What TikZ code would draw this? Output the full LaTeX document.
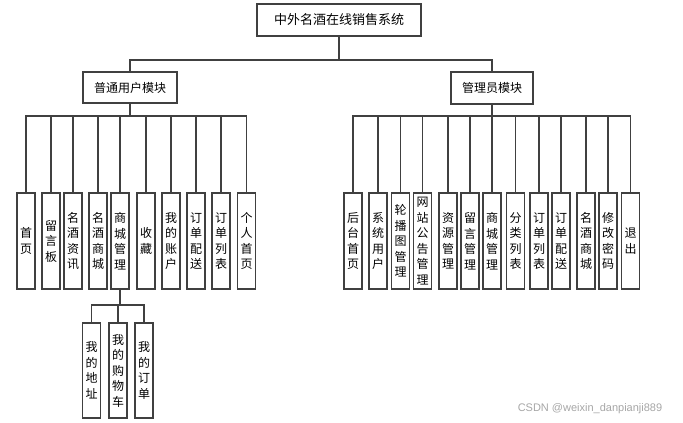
\documentclass[tikz,border=0pt]{standalone}
\usepackage{fontspec}
\setmainfont{Noto Sans CJK SC}
\newfontfamily\wmfont{Liberation Sans}
\begin{document}
\begin{tikzpicture}[x=1pt,y=-1pt,
  box/.style={draw=black!75, fill=white, inner sep=0pt, line width=1.25pt},
  vbox/.style={box, minimum width=18pt, minimum height=96pt, align=center, font=\fontsize{12}{15.5}\selectfont},
  conn/.style={draw=black!75, line width=1.25pt}]
\useasboundingbox (0,0) rectangle (683,423);
\node[box, minimum width=164pt, minimum height=32pt, font=\fontsize{13}{15}\selectfont] (top) at (339,20) {中外名酒在线销售系统};
\node[box, minimum width=94pt, minimum height=31pt, font=\fontsize{12}{15}\selectfont] (user) at (130,87.5) {普通用户模块};
\node[box, minimum width=82pt, minimum height=32pt, font=\fontsize{12}{15}\selectfont] (admin) at (492,88) {管理员模块};
% user children
\node[vbox] (u1) at (26,241) {首\\页};
\node[vbox] (u2) at (51,241) {留\\言\\板};
\node[vbox] (u3) at (73,241) {名\\酒\\资\\讯};
\node[vbox] (u4) at (98,241) {名\\酒\\商\\城};
\node[vbox] (u5) at (120,241) {商\\城\\管\\理};
\node[vbox] (u6) at (146,241) {收\\藏};
\node[vbox] (u7) at (171,241) {我\\的\\账\\户};
\node[vbox] (u8) at (196,241) {订\\单\\配\\送};
\node[vbox] (u9) at (221,241) {订\\单\\列\\表};
\node[vbox] (u10) at (246.5,241) {个\\人\\首\\页};
% sub children
\node[vbox, minimum height=95pt] (s1) at (91.5,370.5) {我\\的\\地\\址};
\node[vbox, minimum height=95pt] (s2) at (118,370.5) {我\\的\\购\\物\\车};
\node[vbox, minimum height=95pt] (s3) at (144,370.5) {我\\的\\订\\单};
% admin children
\node[vbox] (a1) at (353,241) {后\\台\\首\\页};
\node[vbox] (a2) at (378,241) {系\\统\\用\\户};
\node[vbox] (a3) at (400.5,241) {轮\\播\\图\\管\\理};
\node[vbox] (a4) at (422.5,241) {网\\站\\公\\告\\管\\理};
\node[vbox] (a5) at (448,241) {资\\源\\管\\理};
\node[vbox] (a6) at (470,241) {留\\言\\管\\理};
\node[vbox] (a7) at (492,241) {商\\城\\管\\理};
\node[vbox] (a8) at (515.5,241) {分\\类\\列\\表};
\node[vbox] (a9) at (539,241) {订\\单\\列\\表};
\node[vbox] (a10) at (561,241) {订\\单\\配\\送};
\node[vbox] (a11) at (586,241) {名\\酒\\商\\城};
\node[vbox] (a12) at (608,241) {修\\改\\密\\码};
\node[vbox] (a13) at (630.5,241) {退\\出};
% connectors
\coordinate (tj) at (339,60);
\coordinate (uj) at (130,116);
\coordinate (aj) at (492,116);
\coordinate (sj) at (120,305);
\draw[conn] (top.south) -- (tj);
\draw[conn] (user.north) |- (tj);
\draw[conn] (admin.north) |- (tj);
\draw[conn] (user.south) -- (uj);
\draw[conn] (admin.south) -- (aj);
\foreach \n in {u1,u2,u3,u4,u5,u6,u7,u8,u9,u10} {\draw[conn] (\n.north) |- (uj);}
\foreach \n in {a1,a2,a3,a4,a5,a6,a7,a8,a9,a10,a11,a12,a13} {\draw[conn] (\n.north) |- (aj);}
\draw[conn] (u5.south) -- (sj);
\foreach \n in {s1,s2,s3} {\draw[conn] (\n.north) |- (sj);}
\node[font=\wmfont\fontsize{11}{12}\selectfont, text=black!35, inner sep=0pt] (wm) at (590,409) {CSDN @weixin\_danpianji889};
\end{tikzpicture}
\end{document}
